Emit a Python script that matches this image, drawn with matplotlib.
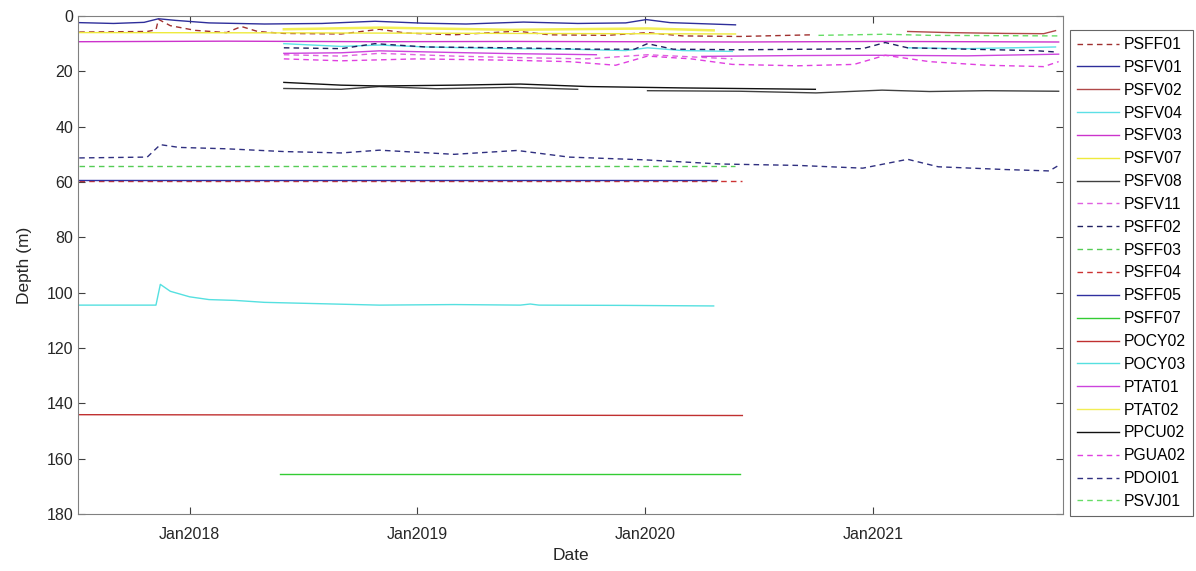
import numpy as np
import pandas as pd
import matplotlib
matplotlib.use("Agg")
import matplotlib.pyplot as plt

plt.rcParams["font.family"] = ["Liberation Sans", "DejaVu Sans"]

# ---- series (date, depth in m); NaN = data gap ----
PSFF01_T = ["2017-07-08", "2017-10-25", "2017-11-08", "2017-11-12", "2017-12-01", "2018-01-10",
            "2018-03-01", "2018-03-25", "2018-04-20", "2018-06-01", "2018-09-01", "2018-11-01",
            "2018-12-15", "2019-03-01", "2019-06-10", "2019-08-01", "2019-11-01", "2020-01-05",
            "2020-03-01", "2020-06-01", "2020-09-25"]
PSFF01_D = [5.8, 5.6, 5.0, 1.2, 3.5, 5.2, 6.0, 3.8, 5.6, 6.3, 6.5, 4.8, 6.2, 6.8, 5.5, 6.8,
            7.0, 6.0, 7.2, 7.4, 6.8]

PSFV01_T = ["2017-07-08", "2017-09-01", "2017-10-20", "2017-11-12", "2017-12-10", "2018-02-01",
            "2018-05-01", "2018-08-01", "2018-10-25", "2019-01-10", "2019-03-20", "2019-06-20",
            "2019-09-15", "2019-12-01", "2020-01-03", "2020-02-10", "2020-05-25"]
PSFV01_D = [2.4, 2.7, 2.3, 1.0, 1.6, 2.5, 2.9, 2.7, 1.9, 2.6, 2.9, 2.2, 2.7, 2.5, 1.3, 2.4, 3.2]

PSFV02_T = ["2021-02-25", "2021-05-01", "2021-08-01", "2021-10-01", "2021-10-20"]
PSFV02_D = [5.6, 6.0, 6.3, 6.4, 5.3]

PSFV04_T = ["2018-06-01", "2018-09-01", "2018-11-01", "2019-01-15", "2019-06-01", "2019-09-01",
            "2019-12-01", "2020-01-05", "2020-03-01", "2020-05-20", "2020-10-01",
            "2021-02-25", "2021-06-01", "2021-10-20"]
PSFV04_D = [10.0, 11.0, 10.5, 11.2, 11.8, 12.0, 12.5, 11.5, 12.5, 12.8, np.nan, 11.5, 11.8, 11.2]

PSFV03_T = ["2017-07-08", "2018-03-01", "2018-11-01", "2019-06-01", "2020-06-01", "2021-01-20",
            "2021-10-25"]
PSFV03_D = [9.3, 9.1, 9.3, 9.2, 9.4, 9.2, 9.4]

PSFV07_T = ["2017-07-08", "2018-06-01", "2019-06-01", "2020-05-25"]
PSFV07_D = [6.0, 6.1, 6.3, 6.5]

PSFV08_T = ["2018-06-01", "2018-09-01", "2018-11-01", "2019-02-01", "2019-06-01", "2019-09-15",
            "2019-11-01", "2020-01-05", "2020-06-01", "2020-10-01", "2021-01-15", "2021-04-01",
            "2021-07-01", "2021-10-25"]
PSFV08_D = [26.2, 26.5, 25.5, 26.3, 25.8, 26.5, np.nan, 27.0, 27.2, 27.8, 26.8, 27.3, 27.0, 27.2]

PSFV11_T = ["2018-06-01", "2018-09-01", "2018-11-01", "2019-03-01", "2019-06-01", "2019-10-01",
            "2020-01-05", "2020-05-20"]
PSFV11_D = [14.0, 14.5, 13.5, 14.5, 15.0, 15.5, 14.0, 15.5]

PSFF02_T = ["2018-06-01", "2018-09-01", "2018-10-25", "2019-01-15", "2019-06-01", "2019-10-01",
            "2019-12-15", "2020-01-05", "2020-02-15", "2020-06-01", "2020-10-01", "2020-12-15",
            "2021-01-20", "2021-02-25", "2021-06-01", "2021-09-15", "2021-10-20"]
PSFF02_D = [11.5, 11.8, 10.0, 11.2, 11.5, 12.0, 12.0, 10.0, 12.0, 12.2, 12.0, 11.8, 9.6, 11.5,
            12.0, 12.5, 13.0]

PSFF03_T = ["2017-07-08", "2020-05-25"]
PSFF03_D = [54.2, 54.2]

PSFF04_T = ["2017-07-08", "2020-06-05"]
PSFF04_D = [59.6, 59.6]

PSFF05_T = ["2017-07-08", "2020-04-25"]
PSFF05_D = [59.3, 59.3]

PSFF07_T = ["2018-05-26", "2020-06-01"]
PSFF07_D = [165.5, 165.5]

POCY02_T = ["2017-07-08", "2020-06-05"]
POCY02_D = [144.1, 144.4]

POCY03_T = ["2017-07-08", "2017-11-08", "2017-11-15", "2017-12-01", "2018-01-01", "2018-02-01",
            "2018-03-15", "2018-05-01", "2018-08-01", "2018-11-01", "2019-03-01", "2019-06-15",
            "2019-07-01", "2019-07-15", "2019-12-01", "2020-04-20"]
POCY03_D = [104.5, 104.5, 97.0, 99.5, 101.5, 102.5, 102.8, 103.5, 104.0, 104.5, 104.3, 104.5,
            104.1, 104.5, 104.6, 104.8]

PTAT01_T = ["2018-06-01", "2018-09-01", "2018-11-01", "2019-03-01", "2019-06-01", "2019-10-15",
            "2020-01-01", "2020-04-01", "2020-09-01", "2021-01-01", "2021-06-01", "2021-10-25"]
PTAT01_D = [13.5, 13.3, 12.6, 13.2, 13.6, 14.0, np.nan, 14.6, 14.3, 14.2, 14.4, 13.8]

PTAT02_T = ["2018-06-01", "2018-11-01", "2019-06-01", "2020-01-05", "2020-04-20"]
PTAT02_D = [4.8, 4.2, 5.0, 4.5, 5.2]

PPCU02_T = ["2018-06-01", "2018-09-01", "2018-11-01", "2019-03-01", "2019-06-15", "2019-10-01",
            "2020-03-01", "2020-09-30"]
PPCU02_D = [24.0, 25.0, 25.3, 25.0, 24.6, 25.5, 26.0, 26.5]

PGUA02_T = ["2018-06-01", "2018-09-01", "2019-01-01", "2019-06-01", "2019-09-01", "2019-11-15",
            "2020-01-05", "2020-03-15", "2020-05-20", "2020-09-01", "2020-12-01", "2021-01-20",
            "2021-04-01", "2021-07-01", "2021-10-01", "2021-10-25"]
PGUA02_D = [15.5, 16.2, 15.5, 16.0, 16.5, 17.8, 14.5, 15.5, 17.5, 18.0, 17.5, 14.2, 16.5, 17.8,
            18.3, 16.5]

PDOI01_T = ["2017-07-08", "2017-10-25", "2017-11-15", "2017-12-15", "2018-03-01", "2018-06-01",
            "2018-09-01", "2018-11-01", "2019-03-01", "2019-06-10", "2019-09-01", "2020-01-01",
            "2020-05-01", "2020-09-01", "2020-12-15", "2021-02-25", "2021-04-15", "2021-08-01",
            "2021-10-10", "2021-10-25"]
PDOI01_D = [51.3, 51.0, 46.5, 47.5, 48.0, 49.0, 49.5, 48.5, 50.0, 48.6, 51.0, 52.0, 53.5, 54.0,
            55.0, 51.8, 54.5, 55.5, 56.0, 54.0]

PSVJ01_T = ["2020-10-05", "2021-01-20", "2021-04-01", "2021-10-25"]
PSVJ01_D = [7.0, 6.6, 7.0, 7.2]

XTICKS = ["2018-01-01", "2019-01-01", "2020-01-01", "2021-01-01"]
XTICK_LABELS = ["Jan2018", "Jan2019", "Jan2020", "Jan2021"]
YTICKS = list(range(0, 181, 20))

# name, dates, depths, colour, dashed?
SERIES = [
    ("PSFF01", PSFF01_T, PSFF01_D, "#a0302f", True),
    ("PSFV01", PSFV01_T, PSFV01_D, "#2e2e9a", False),
    ("PSFV02", PSFV02_T, PSFV02_D, "#b04848", False),
    ("PSFV04", PSFV04_T, PSFV04_D, "#5ce0e6", False),
    ("PSFV03", PSFV03_T, PSFV03_D, "#cc33cc", False),
    ("PSFV07", PSFV07_T, PSFV07_D, "#eeea3c", False),
    ("PSFV08", PSFV08_T, PSFV08_D, "#404040", False),
    ("PSFV11", PSFV11_T, PSFV11_D, "#e060e0", True),
    ("PSFF02", PSFF02_T, PSFF02_D, "#202060", True),
    ("PSFF03", PSFF03_T, PSFF03_D, "#55cc55", True),
    ("PSFF04", PSFF04_T, PSFF04_D, "#cc3333", True),
    ("PSFF05", PSFF05_T, PSFF05_D, "#3030a0", False),
    ("PSFF07", PSFF07_T, PSFF07_D, "#33cc33", False),
    ("POCY02", POCY02_T, POCY02_D, "#c03030", False),
    ("POCY03", POCY03_T, POCY03_D, "#55e0e0", False),
    ("PTAT01", PTAT01_T, PTAT01_D, "#cc44dd", False),
    ("PTAT02", PTAT02_T, PTAT02_D, "#f2ee55", False),
    ("PPCU02", PPCU02_T, PPCU02_D, "#111111", False),
    ("PGUA02", PGUA02_T, PGUA02_D, "#e040e0", True),
    ("PDOI01", PDOI01_T, PDOI01_D, "#303080", True),
    ("PSVJ01", PSVJ01_T, PSVJ01_D, "#66dd66", True),
]

fig = plt.figure(figsize=(11.96, 5.71), dpi=100)
ax = fig.add_axes([0.0652, 0.0998, 0.8236, 0.8722])

for name, t, d, color, dashed in SERIES:
    ls = (0, (4, 3)) if dashed else "-"
    lw = 1.8 if name == "PTAT02" else 1.0
    ax.plot(pd.to_datetime(t), np.array(d, dtype=float), color=color, lw=lw,
            linestyle=ls, label=name)

ax.set_xlim(pd.Timestamp("2017-07-06"), pd.Timestamp("2021-11-01"))
ax.set_ylim(180, 0)
ax.set_yticks(YTICKS)
ax.set_xticks(pd.to_datetime(XTICKS))
ax.set_xticklabels(XTICK_LABELS)
ax.tick_params(direction="in", top=True, right=True, labelsize=11.5, length=5,
               color="#404040", labelcolor="#262626")
ax.tick_params(axis="x", pad=9)
for sp in ax.spines.values():
    sp.set_color("#808080")
    sp.set_linewidth(0.8)
ax.set_xlabel("Date", fontsize=12.5, color="#262626", labelpad=5)
ax.set_ylabel("Depth (m)", fontsize=12.5, color="#262626", labelpad=10)

leg = ax.legend(loc="upper left", bbox_to_anchor=(1.0071, 0.972), borderaxespad=0,
                fontsize=11.3, handlelength=2.65, labelspacing=0.5, handletextpad=0.3,
                borderpad=0.45, frameon=True, fancybox=False, edgecolor="#404040")
leg.get_frame().set_linewidth(0.8)
for line in leg.get_lines():
    line.set_linewidth(1.0)

fig.savefig("out.png", dpi=100, facecolor="white")
